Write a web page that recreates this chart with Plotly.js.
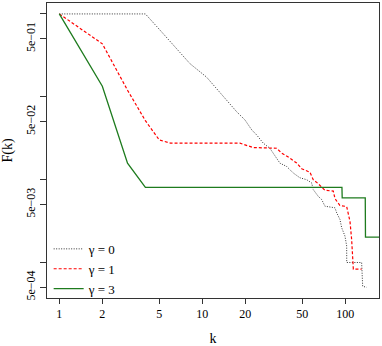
<!DOCTYPE html>
<html>
<head>
<meta charset="utf-8">
<script src="https://cdn.plot.ly/plotly-3.0.1.min.js"></script>
<style>
  html, body { margin: 0; padding: 0; background: #fff; }
  #chart { width: 382px; height: 346px; }
</style>
</head>
<body>
<div id="chart"></div>
<script>
// gamma = 0
const k0 = [1, 2, 3, 4, 5, 8.2, 10.7, 14.8, 17.4, 19.9, 22.2, 24, 26.7, 29.7, 33.1, 34.9, 38.9, 43.3, 48.2, 53.7, 58.2, 59.7, 64.7, 68.4, 72.1, 84.7, 87.1, 91.8, 94.4, 99.5, 102.3, 102.4, 130.2, 132.4, 141.2];
const f0 = [1, 1, 1, 1, 0.653, 0.251, 0.173, 0.091, 0.0659, 0.0524, 0.0397, 0.0346, 0.0275, 0.0239, 0.0182, 0.0158, 0.0144, 0.012, 0.0105, 0.00997, 0.0091, 0.00757, 0.00628, 0.00574, 0.00477, 0.00456, 0.00397, 0.0033, 0.00262, 0.00208, 0.00158, 0.000997, 0.000997, 0.000514, 0.0005];
// gamma = 1
const k1 = [1, 2, 3, 4, 5, 6, 18.35, 22.7, 33.1, 35.9, 41, 45.7, 49.6, 56.6, 59.7, 64.7, 72.1, 82.5, 84.7, 91.8, 102.3, 107.9, 110.8, 113.8, 113.9, 130.2];
const f1 = [1, 0.436, 0.12, 0.0514, 0.0301, 0.0275, 0.0275, 0.02435, 0.0239, 0.0209, 0.01817, 0.01583, 0.01352, 0.01227, 0.00997, 0.00893, 0.00742, 0.00726, 0.0059, 0.00486, 0.00473, 0.00313, 0.0019, 0.000997, 0.000828, 0.000828];
// gamma = 3
const k3 = [1, 2, 3, 4, 94.8, 95.2, 138, 138.5, 200];
const f3 = [1, 0.134, 0.0158, 0.00806, 0.00806, 0.006, 0.006, 0.00202, 0.00202];

const xTicks = [1, 2, 5, 10, 20, 50, 100];
const yTicks = [1, 0.5, 0.1, 0.05, 0.01, 0.005, 0.001, 0.0005];
const yTickText = ['', '5e\u221201', '', '5e\u221202', '', '5e\u221203', '', '5e\u221204'];

const serif = '"Liberation Serif", serif';

const traces = [
	{x: k0, y: f0, mode: 'lines', name: '\u03b3 = 0',
		line: {color: '#333', width: 1, dash: '1px,1.5px'}},
	{x: k1, y: f1, mode: 'lines', name: '\u03b3 = 1',
		line: {color: '#ff0000', width: 1.2, dash: '3px,2px'}},
	{x: k3, y: f3, mode: 'lines', name: '\u03b3 = 3',
		line: {color: '#1e7b1e', width: 1.3}}
];

const layout = {
	width: 382, height: 346,
	margin: {l: 47, r: 3, t: 3, b: 48},
	paper_bgcolor: '#fff', plot_bgcolor: '#fff',
	font: {family: serif, size: 12, color: '#000'},
	showlegend: true,
	legend: {x: 0.005, y: -0.02, xanchor: 'left', yanchor: 'bottom', itemwidth: 30,
		bgcolor: 'rgba(0,0,0,0)', font: {family: serif, size: 13}, tracegroupgap: 0},
	xaxis: {
		type: 'log', range: [-0.086, 2.236], automargin: false,
		tickvals: xTicks, ticktext: xTicks.map(String),
		ticks: 'outside', ticklen: 5, tickcolor: '#333',
		showline: true, mirror: true, linecolor: '#333', linewidth: 1,
		showgrid: false, zeroline: false,
		tickfont: {family: serif, size: 12},
		title: {text: 'k', font: {family: serif, size: 14}}
	},
	yaxis: {
		type: 'log', range: [-3.43, 0.132], automargin: false,
		tickvals: yTicks, ticktext: yTickText, tickangle: -90,
		ticks: 'outside', ticklen: 6, tickcolor: '#333',
		showline: true, mirror: true, linecolor: '#333', linewidth: 1,
		showgrid: false, zeroline: false,
		tickfont: {family: serif, size: 12},
		title: {text: 'F(k)', font: {family: serif, size: 14}}
	}
};

Plotly.newPlot('chart', traces, layout, {staticPlot: true});
</script>
</body>
</html>
